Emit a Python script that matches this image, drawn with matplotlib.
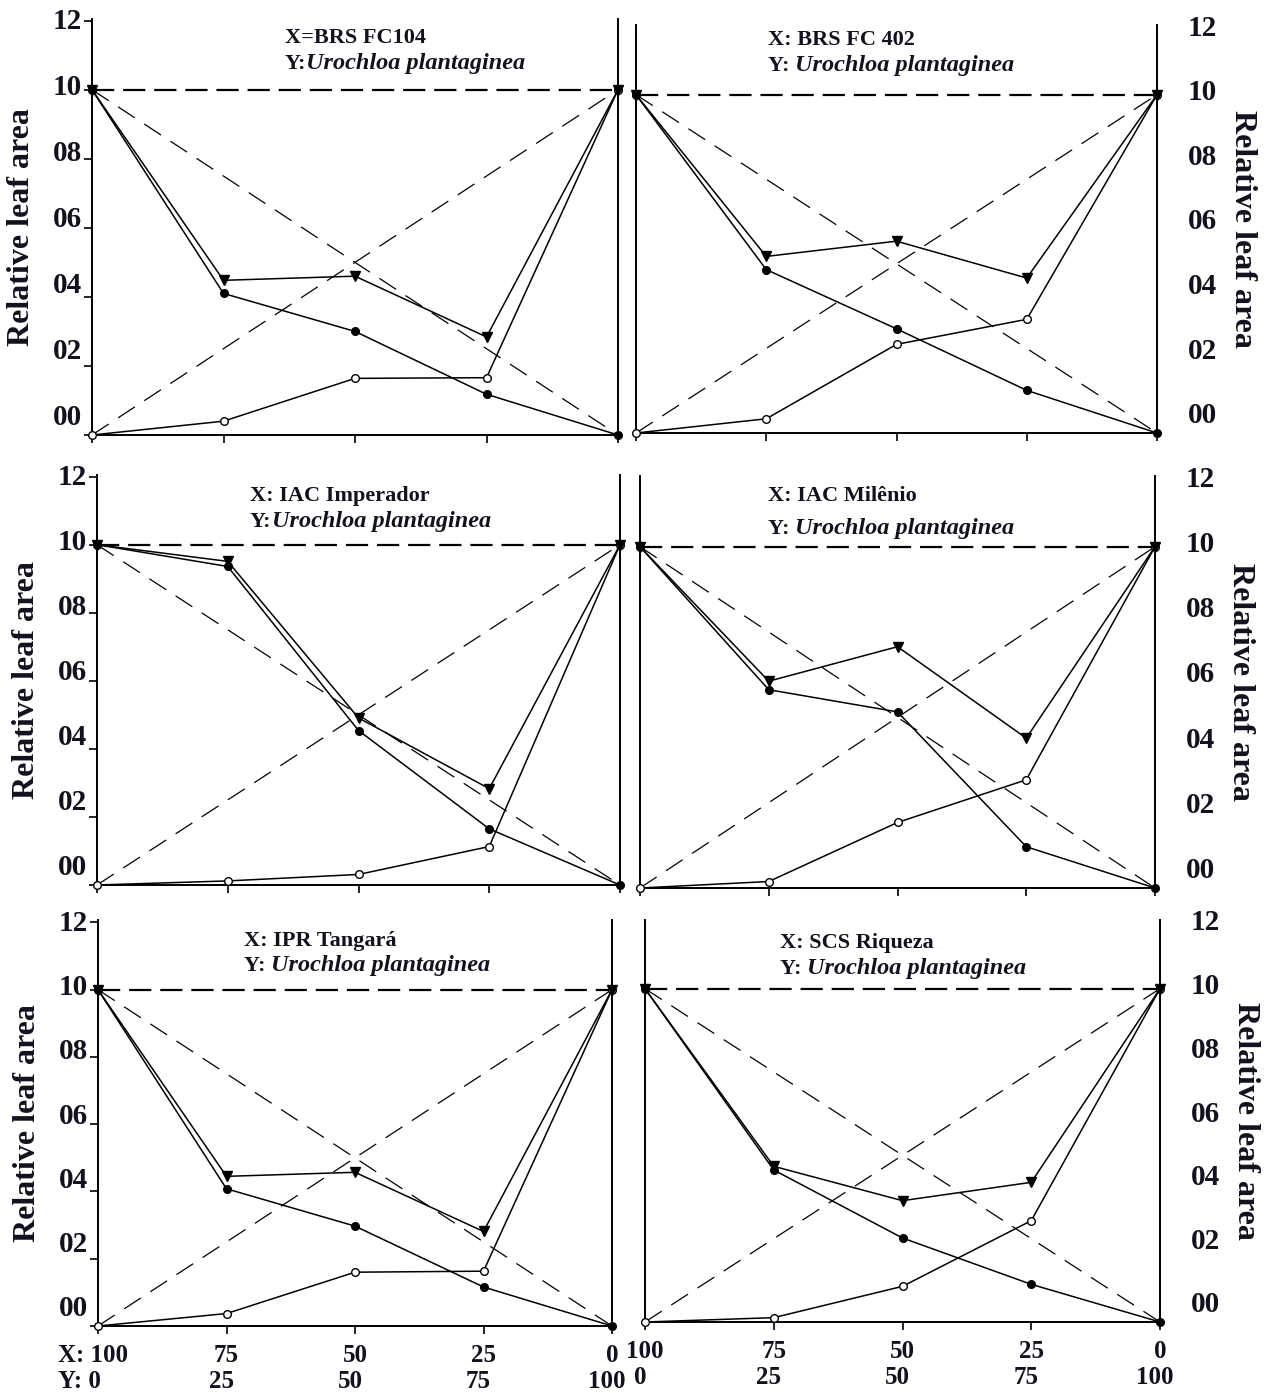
import matplotlib
matplotlib.use("Agg")
import matplotlib.pyplot as plt
from matplotlib.transforms import offset_copy, blended_transform_factory

# ---------------- data ----------------
x_props = [100, 75, 50, 25, 0]          # proportion of X (cultivar)
y_props = [0, 25, 50, 75, 100]          # proportion of Y (weed)

cultivars = ["BRS FC104", "BRS FC 402", "IAC Imperador", "IAC Milênio", "IPR Tangará", "SCS Riqueza"]
x_prefix = ["X=", "X: ", "X: ", "X: ", "X: ", "X: "]
y_prefix = ["Y:", "Y: ", "Y:", "Y: ", "Y: ", "Y: "]
weed = "Urochloa plantaginea"

# relative leaf area of the cultivar (X, filled circles)
rla_x_brs104 = [1.0, 0.41, 0.30, 0.118, 0.0]
rla_x_brs402 = [1.0, 0.483, 0.308, 0.126, 0.0]
rla_x_imperador = [1.0, 0.936, 0.454, 0.165, 0.0]
rla_x_milenio = [1.0, 0.581, 0.516, 0.121, 0.0]
rla_x_tangara = [1.0, 0.408, 0.297, 0.116, 0.0]
rla_x_riqueza = [1.0, 0.456, 0.252, 0.113, 0.0]

# relative leaf area of the weed (Y, open circles)
rla_y_brs104 = [0.0, 0.04, 0.164, 0.166, 1.0]
rla_y_brs402 = [0.0, 0.042, 0.262, 0.336, 1.0]
rla_y_imperador = [0.0, 0.012, 0.031, 0.113, 1.0]
rla_y_milenio = [0.0, 0.019, 0.192, 0.317, 1.0]
rla_y_tangara = [0.0, 0.037, 0.16, 0.163, 1.0]
rla_y_riqueza = [0.0, 0.013, 0.107, 0.304, 1.0]

# total relative leaf area (triangles)
rla_t_brs104 = [1.0, 0.448, 0.46, 0.284, 1.0]
rla_t_brs402 = [1.0, 0.522, 0.567, 0.458, 1.0]
rla_t_imperador = [1.0, 0.951, 0.491, 0.283, 1.0]
rla_t_milenio = [1.0, 0.606, 0.707, 0.439, 1.0]
rla_t_tangara = [1.0, 0.445, 0.457, 0.281, 1.0]
rla_t_riqueza = [1.0, 0.467, 0.364, 0.419, 1.0]

rla_x = [rla_x_brs104, rla_x_brs402, rla_x_imperador, rla_x_milenio, rla_x_tangara, rla_x_riqueza]
rla_y = [rla_y_brs104, rla_y_brs402, rla_y_imperador, rla_y_milenio, rla_y_tangara, rla_y_riqueza]
rla_t = [rla_t_brs104, rla_t_brs402, rla_t_imperador, rla_t_milenio, rla_t_tangara, rla_t_riqueza]

y_ticks = [0.0, 0.2, 0.4, 0.6, 0.8, 1.0, 1.2]
y_ticklabels = ["00", "02", "04", "06", "08", "10", "12"]
expected_x = [1.0, 0.0]
expected_y = [0.0, 1.0]
expected_total = [1.0, 1.0]
expected_props = [100, 0]

# ---------------- style / layout ----------------
W, H = 1272, 1393
INK = "#12121f"
FONT = "Liberation Serif"
plt.rcParams["font.family"] = [FONT, "DejaVu Serif"]
plt.rcParams["font.weight"] = "bold"

TICK_FS = 21
YLAB_FS = 23
TITLE_FS = 16
ITAL_FS = 17.5
XLAB_FS = 18

fig = plt.figure(figsize=(W / 100, H / 100), dpi=100)
fig.patch.set_facecolor("white")

# axes rectangles in pixel coordinates: (left, right, y_of_0, y_of_1.0)
boxes = [
    (92, 618, 435, 88),
    (636, 1157, 433, 93),
    (97, 620, 885, 543),
    (640, 1155, 888, 545),
    (98, 612, 1326, 988),
    (645, 1160, 1322, 987),
]
title_pos = [
    (285, 38, 64),
    (768, 40, 66),
    (250, 496, 522),
    (768, 496, 529),
    (244, 941, 966),
    (780, 943, 969),
]

def label_pos(v):
    # tick labels sit slightly above their tick marks in the reference
    return 0.06 + 0.955 * v

for i in range(6):
    left, right, y0, y1 = boxes[i]
    unit = y0 - y1
    top = y0 - 1.2 * unit
    ax = fig.add_axes([left / W, 1 - y0 / H, (right - left) / W, (y0 - top) / H])
    ax.set_xlim(100, 0)
    ax.set_ylim(0, 1.2)
    is_left = (i % 2 == 0)
    ax.spines["top"].set_visible(False)
    for s in ["left", "right", "bottom"]:
        ax.spines[s].set_linewidth(1.4)
        ax.spines[s].set_color("black")

    # expected (dashed) lines
    ax.plot(expected_props, expected_total, color="black", lw=1.6, dashes=(10, 4), clip_on=False)
    ax.plot(expected_props, expected_x, color="black", lw=0.9, dashes=(16, 9), clip_on=False)
    ax.plot(expected_props, expected_y, color="black", lw=0.9, dashes=(16, 9), clip_on=False)

    # observed lines
    ax.plot(x_props, rla_y[i], color="black", lw=1.1, marker="o", ms=5.5,
            mfc="white", mec="black", mew=1.0, clip_on=False, zorder=4)
    ax.plot(x_props, rla_x[i], color="black", lw=1.1, marker="o", ms=5.5,
            mfc="black", mec="black", clip_on=False, zorder=5)
    ax.plot(x_props, rla_t[i], color="black", lw=1.1, marker="v", ms=7,
            mfc="black", mec="black", clip_on=False, zorder=6)

    # x ticks
    ax.set_xticks(x_props)
    ax.set_xticklabels([])
    ax.tick_params(axis="x", direction="out", length=6, width=1.2, color="black")

    # y ticks: marks at true positions (minor), labels at shifted positions (major)
    ax.set_yticks(y_ticks, minor=True)
    ax.set_yticks([label_pos(v) for v in y_ticks])
    ax.set_yticklabels(y_ticklabels)
    if is_left:
        ax.yaxis.tick_left()
        ax.tick_params(axis="y", which="minor", direction="out", length=6, width=1.2, left=True)
        ax.tick_params(axis="y", which="major", length=0, pad=7, labelsize=TICK_FS,
                       labelcolor=INK)
        ax.set_ylabel("Relative leaf area", fontsize=YLAB_FS, fontweight="bold", color=INK, labelpad=12)
    else:
        ax.yaxis.tick_right()
        ax.yaxis.set_label_position("right")
        ax.tick_params(axis="y", which="minor", length=0, right=False, left=False)
        ax.tick_params(axis="y", which="major", length=0, pad=22, labelsize=TICK_FS,
                       labelcolor=INK, right=True, left=False, labelright=True, labelleft=False)
        ax.set_ylabel("Relative leaf area", fontsize=YLAB_FS, fontweight="bold", color=INK,
                      rotation=270, va="bottom", labelpad=8)
    for lab in ax.get_yticklabels():
        lab.set_fontweight("bold")

    # panel title
    tx, ty1, ty2 = title_pos[i]
    fig.text(tx / W, 1 - ty1 / H, x_prefix[i] + cultivars[i], fontsize=TITLE_FS, fontweight="bold",
             color=INK, ha="left", va="center")
    t2 = fig.text(tx / W, 1 - ty2 / H, y_prefix[i], fontsize=TITLE_FS, fontweight="bold",
                  color=INK, ha="left", va="center")
    ax.annotate(weed, xy=(1, 0), xycoords=t2, ha="left", va="bottom", fontsize=ITAL_FS,
                fontstyle="italic", fontweight="bold", color=INK)

    # two-row proportion labels under bottom row
    if i >= 4:
        trans = blended_transform_factory(ax.transData, ax.transAxes)
        for j, (xp, yp) in enumerate(zip(x_props, y_props)):
            xs = str(xp)
            ys = str(yp)
            if is_left and j == 0:
                xs = "X: " + xs
                ys = "Y: " + ys
                tr1 = offset_copy(trans, fig=fig, x=-40, y=-30, units="dots")
                tr2 = offset_copy(trans, fig=fig, x=-40, y=-56, units="dots")
                ax.text(xp, 0, xs, transform=tr1, ha="left", va="center", fontsize=XLAB_FS,
                        fontweight="bold", color=INK, clip_on=False)
                ax.text(xp, 0, ys, transform=tr2, ha="left", va="center", fontsize=XLAB_FS,
                        fontweight="bold", color=INK, clip_on=False)
            else:
                tr1 = offset_copy(trans, fig=fig, x=0, y=-30, units="dots")
                tr2 = offset_copy(trans, fig=fig, x=-5, y=-56, units="dots")
                ax.text(xp, 0, xs, transform=tr1, ha="center", va="center", fontsize=XLAB_FS,
                        fontweight="bold", color=INK, clip_on=False)
                ax.text(xp, 0, ys, transform=tr2, ha="center", va="center", fontsize=XLAB_FS,
                        fontweight="bold", color=INK, clip_on=False)

fig.savefig("out.png", dpi=100, facecolor="white")
